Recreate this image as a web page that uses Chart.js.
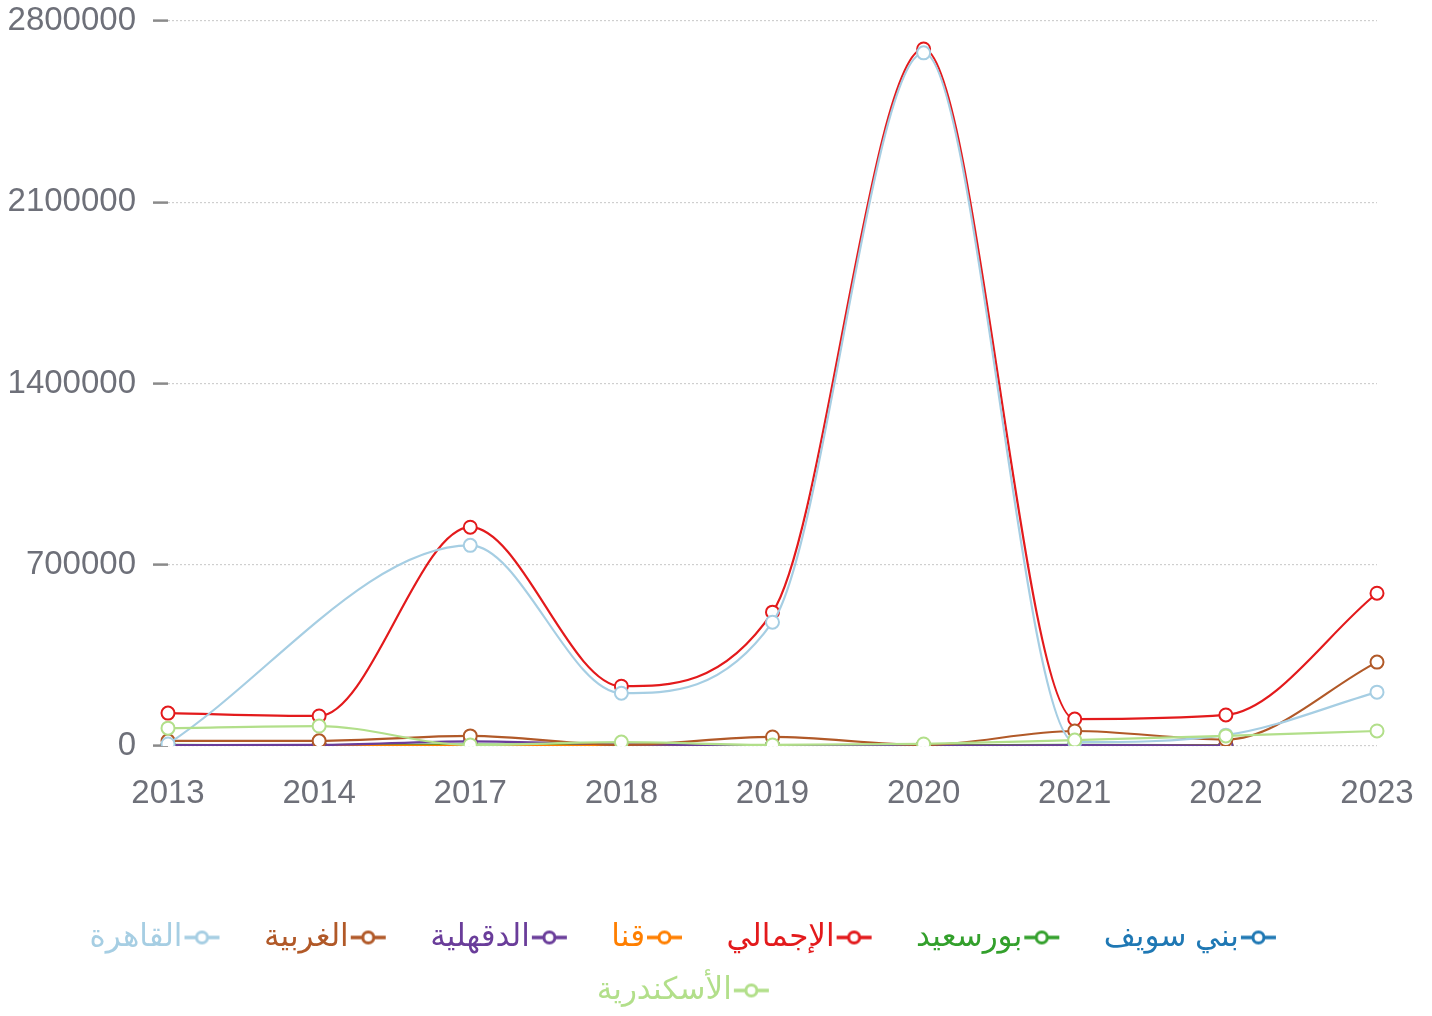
<!DOCTYPE html>
<html lang="ar">
<head>
<meta charset="utf-8">
<title>Chart</title>
<script src="https://cdn.jsdelivr.net/npm/chart.js@4.4.1/dist/chart.umd.min.js"></script>
<style>
    html, body { margin: 0; padding: 0; background: #ffffff; }
    #wrap { width: 1432px; height: 1016px; position: relative; }
</style>
</head>
<body>
<div id="wrap"><canvas id="lineChart"></canvas></div>
<script>
// Years on the x axis
const years = ["2013", "2014", "2017", "2018", "2019", "2020", "2021", "2022", "2023"];

// Series values
const beniSuef   = [2000, 1500, 3000, 1000, 1000, 2000, 1500, 500, null];
const portSaid   = [4000, 3000, 5000, 3000, 3000, 2000, 4000, 3000, null];
const total      = [127000, 116000, 845000, 231000, 517000, 2692000, 104000, 120000, 590000];
const qena       = [2000, 2000, 1000, 2000, 1000, 1000, 1000, 2000, null];
const dakahlia   = [3000, 4000, 18000, 6000, 2000, 1000, 3000, 2000, null];
const gharbia    = [20000, 20000, 39000, 4000, 35000, 4000, 58000, 25000, 324000];
const cairo      = [8000, null, 775000, 204000, 478000, 2677000, 15000, 42000, 208000];
const alexandria = [69000, 77000, 4000, 15000, 4000, 8000, 23000, 39000, 58000];

// Y axis ticks
const yTicks = [0, 700000, 1400000, 2100000, 2800000];

const seriesNames = ["بني سويف", "بورسعيد", "الإجمالي", "قنا", "الدقهلية", "الغربية", "القاهرة", "الأسكندرية"];
const seriesData = [beniSuef, portSaid, total, qena, dakahlia, gharbia, cairo, alexandria];
const seriesColors = ["#1f78b4", "#33a02c", "#e31a1c", "#ff7f00", "#6a3d9a", "#b15928", "#a6cee3", "#b2df8a"];

const FONT = "'Liberation Sans', 'DejaVu Sans', Arial, sans-serif";
const LEGEND_SIZE = 31;
const BOX_W = 44;

// legend marker: short line with an empty circle, pushed towards the text
function makeMarker(color) {
    const c = document.createElement("canvas");
    const shift = LEGEND_SIZE / 2 - 1;
    c.width = 2 * (BOX_W / 2 + shift);
    c.height = 18;
    const g = c.getContext("2d");
    g.strokeStyle = color;
    g.lineWidth = 3.5;
    g.beginPath();
    g.moveTo(1, 9);
    g.lineTo(36, 9);
    g.stroke();
    g.beginPath();
    g.arc(18.5, 9, 5.5, 0, Math.PI * 2);
    g.fillStyle = "#fff";
    g.fill();
    g.lineWidth = 3;
    g.stroke();
    return c;
}

const datasets = seriesNames.map((name, i) => ({
    label: name,
    data: seriesData[i],
    borderColor: seriesColors[i],
    backgroundColor: "#ffffff",
    pointBackgroundColor: "#ffffff",
    pointBorderColor: seriesColors[i],
    pointRadius: 6.5,
    pointBorderWidth: 2,
    borderWidth: 2.2,
    cubicInterpolationMode: "monotone",
    spanGaps: true,
    fill: false,
    order: seriesNames.length - i
}));

// move the legend a bit to the left, like the original
const legendShift = {
    id: "legendShift",
    afterLayout(chart) {
        chart.legend.left -= 26;
        chart.legend.right -= 26;
    }
};

const ctx = document.getElementById("lineChart").getContext("2d");

new Chart(ctx, {
    type: "line",
    data: { labels: years, datasets: datasets },
    plugins: [legendShift],
    options: {
        responsive: true,
        maintainAspectRatio: false,
        animation: false,
        events: [],
        layout: { padding: { left: 8, right: 0, top: 0, bottom: 0 } },
        scales: {
            x: {
                offset: false,
                grid: { display: false, drawTicks: false },
                border: { display: false },
                ticks: {
                    color: "#6E7079",
                    padding: 28,
                    maxRotation: 0,
                    font: { family: FONT, size: 33 }
                },
                afterFit: (scale) => {
                    scale.height = 154;
                    scale.paddingLeft = 0;
                    scale.paddingRight = 55;
                }
            },
            y: {
                min: 0,
                max: 2800000,
                afterBuildTicks: (scale) => { scale.ticks = yTicks.map(v => ({ value: v })); },
                grid: {
                    color: "#cfcfcf",
                    lineWidth: 1.2,
                    tickLength: 15,
                    tickColor: "#8a8a8a",
                    tickWidth: 2.5
                },
                border: { display: false, dash: [2, 2] },
                ticks: {
                    color: "#6E7079",
                    padding: 17,
                    font: { family: FONT, size: 33 },
                    callback: (v) => String(v)
                },
                afterFit: (scale) => {
                    scale.width = 160;
                    scale.paddingTop = 21;
                    scale.paddingBottom = 0;
                }
            }
        },
        plugins: {
            tooltip: { enabled: false },
            legend: {
                position: "bottom",
                rtl: true,
                textDirection: "rtl",
                labels: {
                    usePointStyle: true,
                    pointStyleWidth: BOX_W,
                    padding: 22,
                    font: { family: FONT, size: LEGEND_SIZE },
                    generateLabels: (chart) => chart.data.datasets.map((ds, i) => ({
                        text: ds.label,
                        fontColor: ds.borderColor,
                        fillStyle: "#fff",
                        strokeStyle: ds.borderColor,
                        lineWidth: 0,
                        pointStyle: makeMarker(ds.borderColor),
                        hidden: false,
                        datasetIndex: i
                    }))
                }
            }
        }
    }
});
</script>
</body>
</html>
